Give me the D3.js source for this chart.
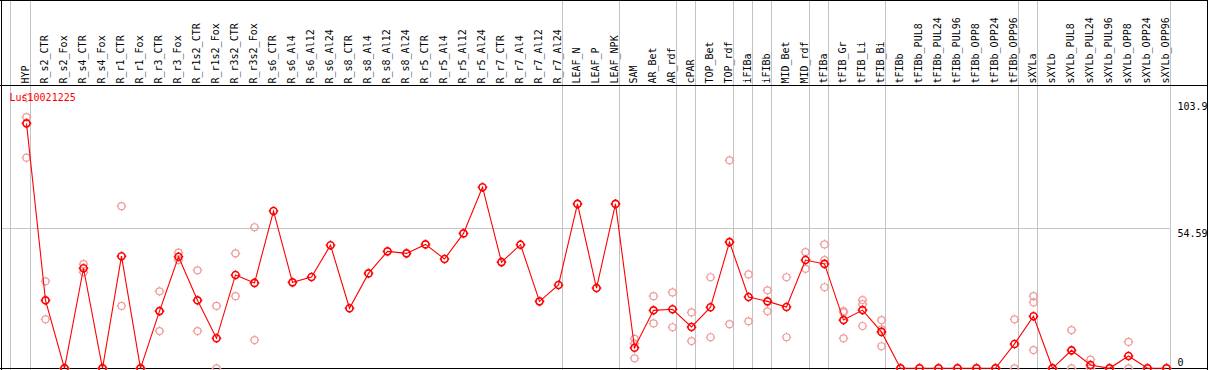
<!DOCTYPE html>
<html>
<head>
<meta charset="utf-8">
<script src="https://cdn.jsdelivr.net/npm/d3@7"></script>
<style>
  body { margin: 0; background: #fff; }
  text { font-family: "DejaVu Sans Mono", "Liberation Mono", monospace; font-size: 10px; }
</style>
</head>
<body>
<svg id="chart" width="1209" height="370"></svg>
<script>
// sample names, one column each
const categories = ['HYP', 'R_s2_CTR', 'R_s2_Fox', 'R_s4_CTR', 'R_s4_Fox', 'R_r1_CTR', 'R_r1_Fox', 'R_r3_CTR', 'R_r3_Fox',
    'R_r1s2_CTR', 'R_r1s2_Fox', 'R_r3s2_CTR', 'R_r3s2_Fox', 'R_s6_CTR', 'R_s6_Al4', 'R_s6_Al12', 'R_s6_Al24',
    'R_s8_CTR', 'R_s8_Al4', 'R_s8_Al12', 'R_s8_Al24', 'R_r5_CTR', 'R_r5_Al4', 'R_r5_Al12', 'R_r5_Al24',
    'R_r7_CTR', 'R_r7_Al4', 'R_r7_Al12', 'R_r7_Al24', 'LEAF_N', 'LEAF_P', 'LEAF_NPK', 'SAM', 'AR_Bet', 'AR_rdf',
    'cPAR', 'TOP_Bet', 'TOP_rdf', 'iFIBa', 'iFIBb', 'MID_Bet', 'MID_rdf', 'tFIBa', 'tFIB_Gr', 'tFIB_Li', 'tFIB_Bi',
    'tFIBb', 'tFIBb_PUL8', 'tFIBb_PUL24', 'tFIBb_PUL96', 'tFIBb_OPP8', 'tFIBb_OPP24', 'tFIBb_OPP96',
    'sXYLa', 'sXYLb', 'sXYLb_PUL8', 'sXYLb_PUL24', 'sXYLb_PUL96', 'sXYLb_OPP8', 'sXYLb_OPP24', 'sXYLb_OPP96'];

// mean expression per sample
const means = [95.5, 26.5, 0, 39.0, 0, 43.7, 0, 22.3, 43.5, 26.5, 11.7, 36.4, 33.3, 61.3, 33.5, 35.6, 48.0,
    23.4, 37.0, 45.6, 44.8, 48.3, 42.6, 52.6, 70.6, 41.4, 48.2, 26.1, 32.5, 64.1, 31.3, 64.1, 8.0, 22.6, 23.0,
    16.1, 23.8, 49.2, 27.8, 26.1, 23.9, 42.2, 40.7, 18.8, 22.7, 14.2, 0, 0, 0, 0, 0, 0, 9.5,
    20.3, 0, 7.0, 1.3, 0, 4.8, 0, 0];

// replicate values per sample
const replicates = [[105.5, 97.9, 82.1], [33.9, 19.1], [0, 0], [40.6, 37.4], [0, 0], [63.2, 24.3], [0, 0],
    [30.0, 14.5], [45.1, 42.2], [38.2, 14.5], [24.3, 0], [44.8, 28.1], [55.0, 11.0],
    [], [], [], [], [], [], [], [], [], [], [], [], [], [], [], [], [], [], [],
    [11.5, 9.6, 3.9], [28.1, 17.5], [29.6, 16.0], [21.8, 10.6], [35.5, 12.1], [81.1, 17.2], [36.6, 18.3],
    [30.4, 22.2], [35.5, 12.1], [45.3, 38.8], [48.3, 42.2, 31.6], [22.3, 21.8, 11.7], [26.6, 25.0, 16.5],
    [18.8, 15.2, 8.6], [0, 0], [0, 0], [0, 0], [0, 0], [0, 0], [0, 0], [19.1, 0],
    [28.1, 25.7, 7.1], [0, 0], [14.9, 0], [3.4, 0], [0, 0], [10.3, 0], [0, 0], [0, 0]];

// last sample of each group (-1 = left edge)
const groupEnds = [-1, 0, 28, 31, 34, 35, 37, 38, 39, 41, 42, 45, 52, 53, 60];
const yTicks = [103.9, 54.59, 0];
const geneName = 'Lus10021225';

const W = 1209, H = 370, headerH = 85;
const svg = d3.select('#chart');

const x = d3.scalePoint().domain(categories).range([26, 1166]);
const y = d3.scaleLinear().domain([0, 103.9]).range([368.3, 101.8]);
const step = x.step();

const sepX = i => Math.floor(i < 0 ? x(categories[0]) - step + 3.3 : x(categories[i]) + 4.3) + 0.5;

// group separators, full height
svg.append('g')
    .selectAll('line')
    .data(groupEnds)
    .enter()
    .append('line')
    .attr('x1', sepX).attr('x2', sepX)
    .attr('y1', 0).attr('y2', H)
    .attr('stroke', '#c4c4c4');

// middle reference line
svg.append('line')
    .attr('x1', 1).attr('x2', sepX(60))
    .attr('y1', Math.round(y(54.59)) + 0.5).attr('y2', Math.round(y(54.59)) + 0.5)
    .attr('stroke', '#c4c4c4');

// frame
const frame = svg.append('g').attr('stroke', '#000').attr('fill', 'none');
frame.append('line').attr('x1', 0).attr('x2', 1208).attr('y1', 0.5).attr('y2', 0.5);
frame.append('line').attr('x1', 0).attr('x2', 1208).attr('y1', headerH + 0.5).attr('y2', headerH + 0.5);
frame.append('line').attr('x1', 0).attr('x2', 1208).attr('y1', 368.5).attr('y2', 368.5);
frame.append('line').attr('x1', 1.5).attr('x2', 1.5).attr('y1', 0).attr('y2', H);
frame.append('line').attr('x1', 1207.5).attr('x2', 1207.5).attr('y1', 0).attr('y2', H);

// column labels
svg.append('g')
    .selectAll('text')
    .data(categories)
    .enter()
    .append('text')
    .attr('transform', d => `translate(${x(d) + 2.7},83.5) rotate(-90)`)
    .text(d => d);

// right value labels
svg.append('g')
    .selectAll('text')
    .data(yTicks)
    .enter()
    .append('text')
    .attr('x', 1177.5)
    .attr('y', d => d === 0 ? y(d) - 2.6 : y(d) + 8.5)
    .text(d => d);

// circle with four small ticks, like the original marker
const marker = (r, t) => {
    const p = d3.path();
    p.moveTo(r, 0);
    p.arc(0, 0, r, 0, 2 * Math.PI);
    p.moveTo(0, -r); p.lineTo(0, -r - t);
    p.moveTo(0, r); p.lineTo(0, r + t);
    p.moveTo(-r, 0); p.lineTo(-r - t, 0);
    p.moveTo(r, 0); p.lineTo(r + t, 0);
    return p.toString();
};

const reps = replicates.flatMap((vals, i) => vals.map(v => ({cat: categories[i], v})));

svg.append('g')
    .selectAll('path')
    .data(reps)
    .enter()
    .append('path')
    .attr('d', marker(3.5, 1.3))
    .attr('transform', d => `translate(${x(d.cat) + 0.5},${y(d.v)})`)
    .attr('fill', 'none')
    .attr('stroke', '#f09a9a')
    .attr('stroke-width', 1.2);

const pts = means.map((v, i) => ({cat: categories[i], v}));

svg.append('path')
    .datum(pts)
    .attr('d', d3.line().x(d => x(d.cat) + 0.5).y(d => y(d.v)))
    .attr('fill', 'none')
    .attr('stroke', '#ff0000')
    .attr('stroke-width', 1.1);

svg.append('g')
    .selectAll('path')
    .data(pts)
    .enter()
    .append('path')
    .attr('d', marker(3.5, 1.3))
    .attr('transform', d => `translate(${x(d.cat) + 0.5},${y(d.v)})`)
    .attr('fill', 'none')
    .attr('stroke', '#ff0000')
    .attr('stroke-width', 1.6);

svg.append('text')
    .attr('x', 9.5)
    .attr('y', 100.5)
    .attr('fill', '#ff0000')
    .text(geneName);
</script>
</body>
</html>
